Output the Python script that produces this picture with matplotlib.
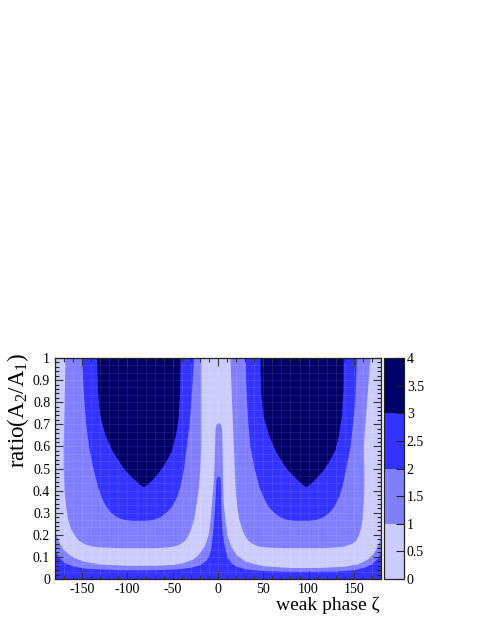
import matplotlib
matplotlib.use('Agg')
import matplotlib.pyplot as plt
import numpy as np
from matplotlib.colors import ListedColormap, BoundaryNorm
from matplotlib.cm import ScalarMappable
from matplotlib.ticker import MultipleLocator, FuncFormatter

plt.rcParams['font.family'] = ['Liberation Serif', 'DejaVu Serif']
plt.rcParams['mathtext.fontset'] = 'custom'
plt.rcParams['mathtext.rm'] = 'Liberation Serif'
plt.rcParams['mathtext.it'] = 'Liberation Serif:italic'
plt.rcParams['axes.unicode_minus'] = False

# contour levels and colours (0-1, 1-2, 2-3, 3-4)
levels = [0, 1, 2, 3, 4]
level_colors = ['#ccccfc', '#8080ff', '#3333ff', '#00006a']
cbar_ticks = [0, 0.5, 1, 1.5, 2, 2.5, 3, 3.5, 4]

# lower region with value >= 1 (top edge, incl. the spike at 0)
edge1_phase = [-180, -176, -172, -166, -158, -148, -130, -100, -70, -50, -38, -28,
               -22, -15, -11, -8.8, -7, -5, -4, -3.3, -2, 0.3, 2.5, 4, 4.6, 5, 5.5,
               7.7, 10, 14, 20, 30, 50, 80, 110, 140, 155, 165, 172, 177, 180]
edge1_ratio = [0.21, 0.17, 0.14, 0.115, 0.095, 0.08, 0.068, 0.062, 0.062, 0.066, 0.075, 0.09,
               0.11, 0.15, 0.2, 0.267, 0.357, 0.45, 0.56, 0.68, 0.703, 0.707, 0.703, 0.68, 0.56, 0.45, 0.357,
               0.267, 0.2, 0.15, 0.11, 0.08, 0.06, 0.052, 0.052, 0.058, 0.07, 0.09, 0.12, 0.16, 0.2]

# lower region with value >= 2
edge2_phase = [-180, -176, -170, -160, -145, -110, -70, -45, -30, -20, -13, -10, -8, -7,
               -5.5, -4.2, -3.3, -2.6, -2.2, -1, 0.5, 2, 2.6, 2.8, 3.3, 4.2, 5.8, 7.5,
               10, 14, 20, 30, 50, 90, 130, 150, 162, 170, 176, 180]
edge2_ratio = [0.13, 0.1, 0.075, 0.058, 0.048, 0.042, 0.042, 0.046, 0.053, 0.065, 0.085, 0.11, 0.14, 0.176,
               0.23, 0.3, 0.357, 0.42, 0.45, 0.465, 0.466, 0.46, 0.44, 0.36, 0.3, 0.23, 0.176, 0.14,
               0.1, 0.075, 0.058, 0.046, 0.038, 0.034, 0.036, 0.042, 0.055, 0.07, 0.095, 0.125]

# U-shaped regions, value >= 1
u1_ratio = [0.142, 0.145, 0.15, 0.16, 0.175, 0.2, 0.23, 0.27, 0.32, 0.4, 0.5, 0.6, 0.8, 1.0]
u1_left_lo = [-110, -130, -140, -148, -154, -159, -163, -166, -168, -170, -171, -171, -170, -169]
u1_left_hi = [-70, -55, -48, -42, -37, -33, -30, -27, -25, -22, -20, -19, -19, -19]
u1_right_lo = [72, 52, 44, 38, 33, 29, 26, 23, 21, 19, 18, 17, 15, 13.2]
u1_right_hi = [115, 130, 140, 147, 152, 155, 157.5, 159, 160, 161, 161, 160.5, 164, 167.8]

# U-shaped regions, value >= 2
u2_ratio = [0.265, 0.27, 0.28, 0.3, 0.33, 0.37, 0.42, 0.5, 0.6, 0.7, 0.8, 0.9, 1.0]
u2_left_lo = [-95, -104, -111, -118, -124, -129, -133, -138, -143, -146, -148, -149.5, -150.5]
u2_left_hi = [-81, -72, -65, -58, -51, -46, -42, -38, -35, -32, -30, -28.5, -27]
u2_right_lo = [85, 76, 69, 62, 55, 50, 45, 40, 35.3, 33, 31.5, 30.5, 29.8]
u2_right_hi = [99, 108, 115, 122, 128, 133, 137, 141, 145.8, 148.5, 151, 152, 153]

# U-shaped regions, value >= 3
u3_ratio = [0.418, 0.43, 0.448, 0.47, 0.493, 0.53, 0.584, 0.65, 0.735, 0.85, 1.0]
u3_left_lo = [-82.5, -87, -91.7, -97.5, -102.7, -109, -117.4, -124.5, -130.3, -133, -134]
u3_left_hi = [-82.5, -78, -73.2, -68.5, -64, -58, -51.2, -47, -43.9, -42.5, -42]
u3_right_lo = [97, 92.5, 88, 82.5, 77, 70.5, 63, 56, 50, 47, 46.3]
u3_right_hi = [97, 101.5, 106, 111, 116, 122, 129, 133, 136, 138, 138.3]

fig = plt.figure(figsize=(4.85, 6.28), dpi=100)
ax = fig.add_axes([55 / 485, 49 / 628, 326 / 485, 221 / 628])
cax = fig.add_axes([384 / 485, 49 / 628, 20 / 485, 221 / 628])

ax.set_facecolor(level_colors[0])
kw = dict(linewidth=0)
ax.fill_between(edge1_phase, 0, edge1_ratio, color=level_colors[1], **kw)
ax.fill_betweenx(u1_ratio, u1_left_lo, u1_left_hi, color=level_colors[1], **kw)
ax.fill_betweenx(u1_ratio, u1_right_lo, u1_right_hi, color=level_colors[1], **kw)
ax.fill_between(edge2_phase, 0, edge2_ratio, color=level_colors[2], **kw)
ax.fill_betweenx(u2_ratio, u2_left_lo, u2_left_hi, color=level_colors[2], **kw)
ax.fill_betweenx(u2_ratio, u2_right_lo, u2_right_hi, color=level_colors[2], **kw)
ax.fill_betweenx(u3_ratio, u3_left_lo, u3_left_hi, color=level_colors[3], **kw)
ax.fill_betweenx(u3_ratio, u3_right_lo, u3_right_hi, color=level_colors[3], **kw)

# faint cell grid
ax.vlines(np.arange(-180, 181, 10), 0, 1, color='white', alpha=0.1, lw=0.6)
ax.hlines(np.linspace(0, 1, 31), -180, 180, color='white', alpha=0.1, lw=0.6)

ax.set_xlim(-180, 180)
ax.set_ylim(0, 1)
ax.xaxis.set_major_locator(MultipleLocator(50))
ax.xaxis.set_minor_locator(MultipleLocator(10))
ax.yaxis.set_major_locator(MultipleLocator(0.1))
ax.yaxis.set_minor_locator(MultipleLocator(0.02))
ax.yaxis.set_major_formatter(FuncFormatter(lambda v, p: f'{v:g}'))
ax.tick_params(which='both', direction='in', top=True, right=True, labelsize=10, color='#222222')
ax.tick_params(which='major', length=5.8, width=0.8)
ax.tick_params(which='minor', length=2.9, width=0.8)
ax.tick_params(axis='y', pad=3.5)
ax.tick_params(axis='x', pad=3)
for s in ax.spines.values():
    s.set_color('#222222')
    s.set_linewidth(0.9)

cmap = ListedColormap(level_colors)
norm = BoundaryNorm(levels, cmap.N)
sm = ScalarMappable(norm=norm, cmap=cmap)
cb = fig.colorbar(sm, cax=cax, ticks=cbar_ticks)
cb.ax.yaxis.set_major_formatter(FuncFormatter(lambda v, p: f'{v:g}'))
cb.ax.tick_params(direction='in', length=6, width=0.8, labelsize=10, pad=2, color='#222222')
cb.outline.set_linewidth(0.9)
cb.outline.set_edgecolor('#222222')

fig.text(380 / 485, (628 - 610) / 628, 'weak phase ζ', ha='right', va='baseline', fontsize=14)
fig.text(18 / 485, (628 - 353) / 628, 'ratio(A$_2$/A$_1$)', ha='center', va='top', rotation=90, fontsize=16.5)

plt.savefig('out.png', dpi=100)
